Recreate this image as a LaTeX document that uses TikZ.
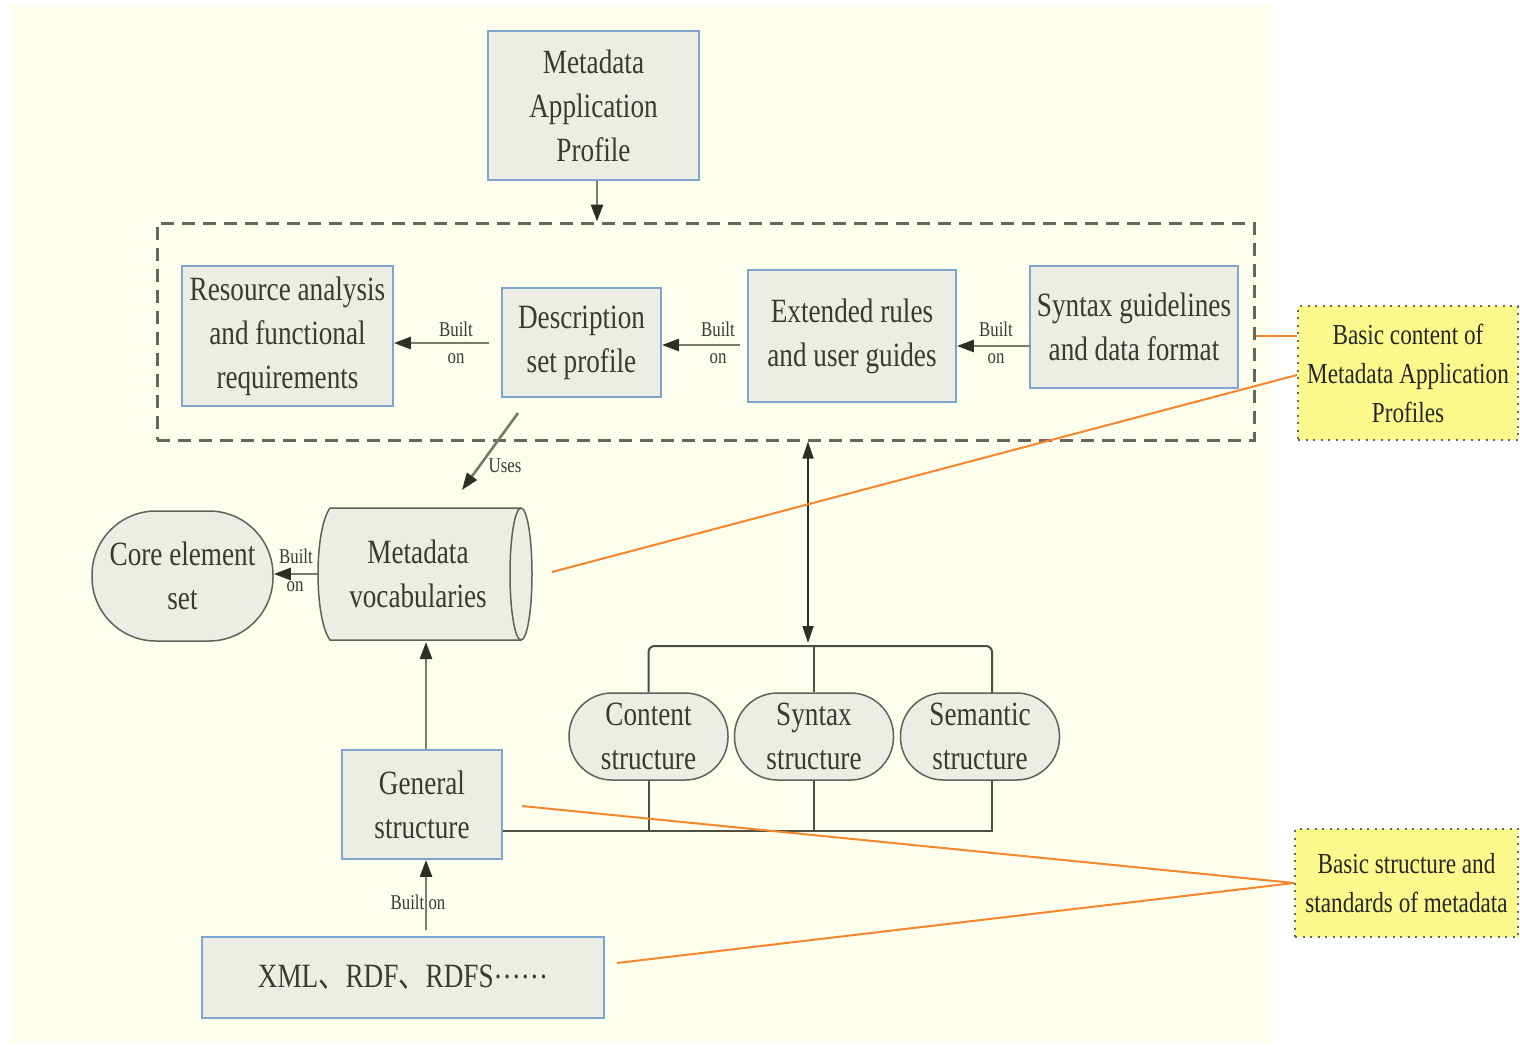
\documentclass[tikz,border=0pt]{standalone}
\usepackage{fontspec}
\setmainfont[FakeStretch=0.8]{Liberation Serif}
\newfontfamily\cjk[FakeStretch=0.8]{Noto Sans CJK SC}
\usetikzlibrary{arrows.meta}
\definecolor{bgyel}{HTML}{FEFFEC}
\definecolor{boxfill}{HTML}{ECEEE5}
\definecolor{boxline}{HTML}{7EA5CE}
\definecolor{txt}{HTML}{3A3A2E}
\definecolor{shaft}{HTML}{7A7A68}
\definecolor{headc}{HTML}{2E2F22}
\definecolor{dashc}{HTML}{66665A}
\definecolor{orng}{HTML}{F5862E}
\definecolor{labfill}{HTML}{FBF98C}
\begin{document}
\begin{tikzpicture}[x=1pt,y=-1pt,
  mainfont/.style={font=\fontsize{34}{44}\selectfont},
  sqbox/.style={draw=boxline,line width=1.8pt,fill=boxfill,text=txt,align=center,inner sep=0pt,mainfont},
  roundbox/.style={draw=txt!80,line width=1.5pt,fill=boxfill,text=txt,align=center,inner sep=0pt,mainfont},
  cylout/.style={draw=txt!80,line width=1.5pt},
  labbox/.style={draw=dashc,line width=2pt,dash pattern=on 2pt off 5.5pt,fill=labfill,text=black!85,align=center,inner sep=0pt,font=\fontsize{29}{39}\selectfont},
  smalllbl/.style={text=txt,inner sep=0pt,font=\fontsize{21}{24}\selectfont},
  arr/.style={draw=shaft,line width=2.6pt,-{Triangle[length=17pt,width=12pt,color=headc]}},
  arrboth/.style={draw=headc,line width=1.8pt,{Triangle[length=17pt,width=11pt]}-{Triangle[length=17pt,width=11pt]}},
  busline/.style={draw=txt!90,line width=2pt},
  orline/.style={draw=orng,line width=2pt}
]
\useasboundingbox (0,0) rectangle (1520,1045);
\fill[white] (0,0) rectangle (1520,1045);
\fill[bgyel] (10,5) rectangle (1273,1043);

% dashed group
\node[draw=dashc,line width=3pt,dash pattern=on 13pt off 8pt,minimum width=1097pt,minimum height=217pt,inner sep=0pt] (grp) at (705.5,331.5) {};

% boxes
\node[sqbox,minimum width=211pt,minimum height=149pt] (map) at (593.5,105.5) {Metadata\\Application\\Profile};
\node[sqbox,minimum width=211pt,minimum height=140pt] (res) at (287.5,336) {Resource analysis\\and functional\\requirements};
\node[sqbox,minimum width=159pt,minimum height=109pt] (desc) at (581.5,342.5) {Description\\set profile};
\node[sqbox,minimum width=208pt,minimum height=132pt] (ext) at (852,336) {Extended rules\\and user guides};
\node[sqbox,minimum width=208pt,minimum height=122pt] (syn) at (1134,327) {Syntax guidelines\\and data format};

\node[roundbox,rounded corners=64pt,minimum width=181pt,minimum height=130pt] (core) at (182.5,576) {Core element\\set};

% horizontal cylinder (Metadata vocabularies)
\fill[boxfill] (330,508) -- (521,508) -- (521,640) -- (330,640) .. controls (314,618) and (314,530) .. (330,508) -- cycle;
\fill[boxfill] (521,574) ellipse [x radius=11, y radius=66];
\draw[cylout] (521,508) -- (330,508) .. controls (314,530) and (314,618) .. (330,640) -- (521,640);
\draw[cylout] (521,574) ellipse [x radius=11, y radius=66];
\node[text=txt,align=center,inner sep=0pt,mainfont,minimum width=200pt,minimum height=132pt] (vocab) at (418,574) {Metadata\\vocabularies};

\node[sqbox,minimum width=160pt,minimum height=109pt] (gen) at (422,804.5) {General\\structure};
\node[sqbox,minimum width=402pt,minimum height=81pt] (xml) at (403,977.5) {XML{\cjk 、}RDF{\cjk 、}RDFS\raisebox{9pt}{……}};

\node[roundbox,rounded corners=43pt,minimum width=159pt,minimum height=87pt] (cont) at (648.5,736.5) {Content\\structure};
\node[roundbox,rounded corners=43pt,minimum width=159pt,minimum height=87pt] (synS) at (814,736.5) {Syntax\\structure};
\node[roundbox,rounded corners=43pt,minimum width=159pt,minimum height=87pt] (sem) at (980,736.5) {Semantic\\structure};

\node[labbox,minimum width=220pt,minimum height=134pt] (lab1) at (1408,373) {Basic content of\\Metadata Application\\Profiles};
\node[labbox,minimum width=223pt,minimum height=108pt] (lab2) at (1406.5,883) {Basic structure and\\standards of metadata};

% arrows
\draw[arr] ([xshift=3.5pt]map.south) -- ([xshift=3.5pt]map.south |- grp.north);

\coordinate (a1) at (489,343);
\draw[arr] (a1) -- (res.east |- a1);
\node[smalllbl] (b1) at (456,329) {Built};
\node[smalllbl] (n1) at (456,359) {on};

\coordinate (a2) at (740,345);
\draw[arr] (a2) -- (desc.east |- a2);
\node[smalllbl] (b2) at (718,329) {Built};
\node[smalllbl] (n2) at (718,359) {on};

\coordinate (a3) at (1030,346);
\draw[arr] (a3) -- (ext.east |- a3);
\node[smalllbl] (b3) at (996,329) {Built};
\node[smalllbl] (n3) at (996,359) {on};

\coordinate (u1) at (518,413);
\coordinate (u2) at (462,490);
\draw[arr] (u1) -- (u2);
\node[smalllbl] (ul) at (505,466) {Uses};

\draw[arr] (vocab.west) -- (core.east |- vocab.west);
\node[smalllbl] (b4) at (296,556) {Built};
\node[smalllbl] (n4) at (295,587) {on};

\coordinate (v1) at (426,642);
\draw[arr] (gen.north -| v1) -- (v1);

\coordinate (x1) at (426,930);
\draw[arr] (x1) -- (x1 |- gen.south);
\node[smalllbl] (b5) at (418,902) {Built on};

% bus lines
\coordinate (bt) at (992,646);
\coordinate (bb) at (992,831);
\draw[busline,rounded corners=6pt] (cont.north) -- (cont.north |- bt) -- (bt) -- (992,693);
\draw[busline] (synS.north) -- (synS.north |- bt);
\draw[busline] (cont.south) -- (cont.south |- bb);
\draw[busline] (synS.south) -- (synS.south |- bb);
\draw[busline] (992,780) -- (bb) -- (gen.east |- bb);

\coordinate (d1) at (808,643);
\draw[arrboth] (grp.south -| d1) -- (d1);

% orange callout lines
\coordinate (o1) at (1256,336);
\draw[orline] (o1) -- (lab1.west |- o1);
\coordinate (o2) at (552,572);
\draw[orline] (o2) -- ([yshift=-2pt]lab1.west);
\coordinate (o3) at (522,806);
\draw[orline] (o3) -- (lab2.west);
\coordinate (o4) at (617,963);
\draw[orline] (o4) -- (lab2.west);
\end{tikzpicture}
\end{document}
